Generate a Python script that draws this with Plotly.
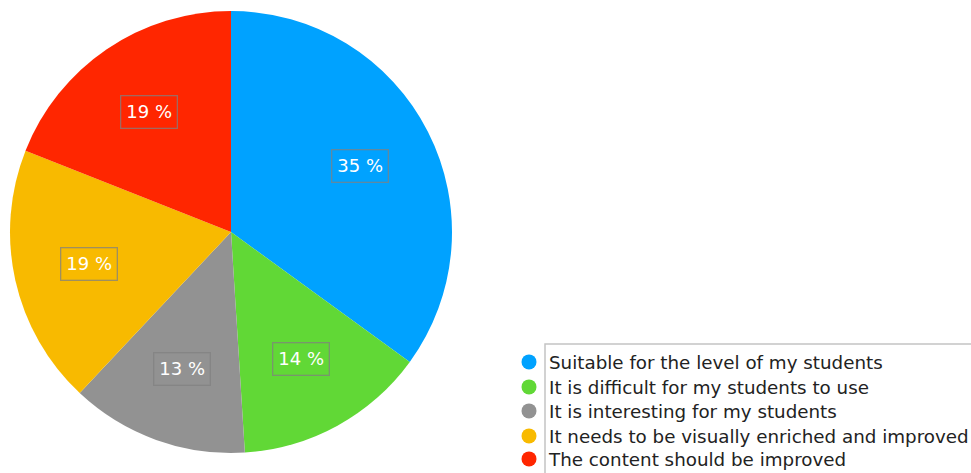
import math
import plotly.graph_objects as go

labels = [
    "Suitable for the level of my students",
    "It is difficult for my students to use",
    "It is interesting for my students",
    "It needs to be visually enriched and improved",
    "The content should be improved",
]
values = [35, 14, 13, 19, 19]
colors = ["#00A2FF", "#61D836", "#929292", "#F8BA00", "#FF2600"]

W, H = 971, 473
cx_px, cy_px, R = 231, 232, 221
dom_x = [(cx_px - R) / W, (cx_px + R) / W]
dom_y = [(H - cy_px - R) / H, (H - cy_px + R) / H]

# legend row centres (px from top)
legend_rows = [362, 387, 411, 436, 459]

fig = go.Figure()
fig.add_trace(go.Pie(
    labels=labels, values=values, sort=False, direction="clockwise", rotation=0,
    marker=dict(colors=colors, line=dict(width=0)),
    textinfo="none", hoverinfo="label+percent", showlegend=False,
    domain=dict(x=dom_x, y=dom_y),
))

legend_layouts = {}
for i, (lab, col) in enumerate(zip(labels, colors)):
    lname = "legend" if i == 0 else f"legend{i + 1}"
    fig.add_trace(go.Scatter(
        x=[None], y=[None], mode="markers", name=lab,
        marker=dict(color=col, size=15, symbol="circle"),
        showlegend=True, legend=lname,
    ))
    legend_layouts[lname] = dict(
        xref="container", yref="container",
        x=509 / W, y=(H - legend_rows[i]) / H, xanchor="left", yanchor="middle",
        font=dict(family="DejaVu Sans, sans-serif", size=18.3, color="#222222"),
        bgcolor="rgba(0,0,0,0)", borderwidth=0,
    )

# Percentage labels with boxes, placed at slice mid-angles
total = sum(values)
cum = 0
annotations = []
for v in values:
    mid = (cum + v / 2) / total * 2 * math.pi
    cum += v
    r = 0.657 * R
    px = cx_px + r * math.sin(mid)
    py = cy_px - r * math.cos(mid)
    annotations.append(dict(
        x=px / W, y=(H - py) / H, xref="paper", yref="paper",
        text=f"{round(v / total * 100)} %", showarrow=False,
        font=dict(family="DejaVu Sans, sans-serif", size=18, color="white"),
        bordercolor="rgba(128,128,128,0.75)", borderwidth=1.3, borderpad=5,
        xanchor="center", yanchor="middle",
    ))

fig.update_layout(
    width=W, height=H,
    margin=dict(l=0, r=0, t=0, b=0, autoexpand=False),
    paper_bgcolor="white", plot_bgcolor="white",
    xaxis=dict(visible=False, domain=[0.6, 0.61]),
    yaxis=dict(visible=False, domain=[0.6, 0.61]),
    annotations=annotations,
    showlegend=True,
    shapes=[dict(
        type="rect", xref="paper", yref="paper",
        x0=545 / W, x1=1.01, y0=-0.01, y1=(H - 344) / H,
        line=dict(color="#c4c4c4", width=1.5), fillcolor="rgba(0,0,0,0)",
    )],
    **legend_layouts,
)

fig.write_html("out.html")
